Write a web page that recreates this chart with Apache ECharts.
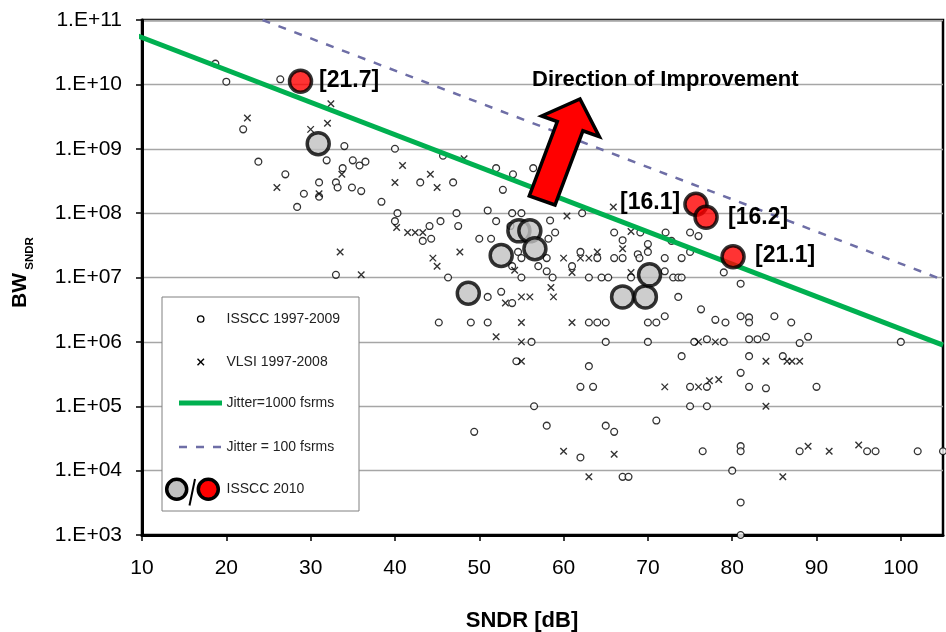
<!DOCTYPE html>
<html><head><meta charset="utf-8">
<script src="https://cdn.jsdelivr.net/npm/echarts@6/dist/echarts.min.js"></script>
<style>html,body{margin:0;padding:0;background:#fff}#c{width:946px;height:632px}</style>
</head><body><div id="c"></div>
<script>
// ---- data ----
const xTickValues = [10, 20, 30, 40, 50, 60, 70, 80, 90, 100];
const yTickLabels = ['1.E+03','1.E+04','1.E+05','1.E+06','1.E+07','1.E+08','1.E+09','1.E+10','1.E+11'];

// ISSCC 1997-2009 (open circles): [SNDR dB, BW]
const isscc9709 = [
 [18.7,2.1e10],[20,1.1e10],[26.4,1.2e10],[22,2e9],[23.8,6.3e8],[27,4e8],[29.2,2e8],[28.4,1.25e8],
 [31,3e8],[31,1.8e8],[31.9,6.6e8],[34,1.1e9],[33.8,5e8],[33,3e8],[33.2,2.5e8],[34.9,2.5e8],
 [35,6.6e8],[35.8,5.5e8],[36.5,6.3e8],[36,2.2e8],[38.4,1.5e8],[40,1e9],[40.3,1e8],[40,7.5e7],
 [43,3e8],[46.9,3e8],[52,5e8],[54,4e8],[52.8,2.3e8],[56.4,5e8],[45.7,7.8e8],[47.3,1e8],
 [47.5,6.3e7],[45.4,7.5e7],[44.1,6.3e7],[44.3,4e7],[43.3,3.7e7],[51,1.1e8],[52,7.5e7],[53.9,1e8],
 [55,1e8],[50,4e7],[51.4,4e7],[46.3,1e7],[33,1.1e7],[51,5e6],[52.6,6e6],[55,1e7],[53.7,6.3e7],
 [53.9,4e6],[45.2,2e6],[49,2e6],[51,2e6],[54.6,2.5e7],[55,2e7],[53.9,1.5e7],[56.2,1e6],[54.4,5e5],
 [62.2,1e8],[58.4,7.7e7],[59,5e7],[58.2,4e7],[66,5e7],[69.1,5e7],[67,3.8e7],[72.1,5e7],[72.8,3.7e7],
 [75,5e7],[76,4.4e7],[79,1.2e7],[81,8e6],[70,3.3e7],[70,2.5e7],[75,2.5e7],[58,2e7],[62,2.5e7],
 [64,2e7],[66,2e7],[67,2e7],[68.8,2.3e7],[69,2e7],[72,2e7],[74,2e7],[57,1.5e7],[58,1.25e7],
 [58.7,1e7],[61,1.5e7],[63,1e7],[64.5,1e7],[65.3,1e7],[68,1e7],[72,1.25e7],[73,1e7],[73.6,1e7],
 [74,1e7],[73.6,5e6],[76.3,3.2e6],[78,2.2e6],[79.2,2e6],[81,2.5e6],[82,2.4e6],[82,2e6],[85,2.5e6],
 [87,2e6],[72,2.5e6],[70,2e6],[71,2e6],[63,2e6],[64,2e6],[65,2e6],[65,1e6],[70,1e6],[75.5,1e6],
 [77,1.1e6],[79,1e6],[82,1.1e6],[83,1.1e6],[84,1.2e6],[88,9.6e5],[89,1.2e6],[100,1e6],[74,6e5],
 [82,6e5],[86,6e5],[63,4.2e5],[81,3.3e5],[62,2e5],[63.5,2e5],[75,2e5],[77,2e5],[82,2e5],[84,1.9e5],
 [90,2e5],[75,1e5],[77,1e5],[71,6e4],[56.5,1e5],[49.4,4e4],[58,5e4],[65,5e4],[66,4e4],[62,1.6e4],
 [67,8e3],[67.7,8e3],[76.5,2e4],[81,2.4e4],[81,2e4],[88,2e4],[96,2e4],[97,2e4],[102,2e4],[105,2e4],
 [80,1e4],[81,3.2e3],[81,1e3]
];
// VLSI 1997-2008 (x markers)
const vlsi9708 = [
 [22.5,3e9],[32.4,5e9],[32,2.5e9],[30,2e9],[26,2.5e8],[31,2e8],[33.7,4e8],[33.5,2.5e7],[36,1.1e7],
 [40.9,5.5e8],[40,3e8],[44.2,4e8],[45,2.5e8],[40.2,6e7],[41.5,5e7],[42.4,5e7],[43.3,5e7],[44.5,2e7],
 [45,1.5e7],[47.7,2.5e7],[48.2,7e8],[54.2,1.3e7],[55,5e6],[56,5e6],[53.1,4e6],[55,2e6],[52,1.2e6],
 [55,1e6],[55,5e5],[60.4,9e7],[65.9,1.25e8],[68,5.2e7],[60,2e7],[62,2e7],[63,2e7],[64,2.5e7],
 [67,2.8e7],[61,1.2e7],[68,1.2e7],[58.5,7e6],[58.8,5e6],[61,2e6],[60,2e4],[66,1.8e4],[63,8e3],
 [76,1e6],[78,1e6],[84,5e5],[86.5,5e5],[87.1,5e5],[88,5e5],[72,2e5],[76,2e5],[77.3,2.5e5],
 [78.4,2.6e5],[84,1e5],[89,2.4e4],[91.5,2e4],[95,2.5e4],[86,8e3]
];
// Jitter limit lines (end points)
const jitter1000 = [[9,6e10],[105,8.9e5]];
const jitter100 = [[24.3,1e11],[105,9.2e6]];
// ISSCC 2010
const isscc2010Gray = [[30.9,1.2e9],[48.7,5.7e6],[52.6,2.2e7],[54.7,5.3e7],[56,5.3e7],[56.6,2.8e7],[67,5e6],[69.7,5e6],[70.2,1.1e7]];
const isscc2010Red = [[28.8,1.12e10],[75.7,1.37e8],[76.9,8.6e7],[80.1,2.1e7]];
const redLabels = ['[21.7]','[16.1]','[16.2]','[21.1]'];
const legendLabels = ['ISSCC 1997-2009','VLSI 1997-2008','Jitter=1000 fsrms','Jitter = 100 fsrms','ISSCC 2010'];

const FONT = 'Arial, "Liberation Sans", sans-serif';
const GREEN = '#00b050';
const DASH = '#6e6ea6';

const chart = echarts.init(document.getElementById('c'), null, {renderer: 'canvas'});

function txt(x, y, text, size, weight, opts) {
  return Object.assign({
    type: 'text', x: x, y: y, z: 100,
    style: {text: text, fontSize: size, fontWeight: weight || 'normal', fontFamily: FONT,
            fill: (opts && opts.fill) || '#000', align: (opts && opts.align) || 'left',
            verticalAlign: 'middle'}
  }, (opts && opts.rotation !== undefined) ? {rotation: opts.rotation} : {});
}

const graphics = [
  // legend box
  {type: 'rect', z: 100, shape: {x: 162, y: 297, width: 197, height: 214}, style: {fill: '#fff', stroke: '#808080', lineWidth: 1}},
  {type: 'circle', z: 101, shape: {cx: 200.7, cy: 319, r: 3.2}, style: {fill: '#fff', stroke: '#000', lineWidth: 1.3}},
  {type: 'line', z: 101, shape: {x1: 197.5, y1: 358.8, x2: 204, y2: 365.3}, style: {stroke: '#000', lineWidth: 1.4}},
  {type: 'line', z: 101, shape: {x1: 204, y1: 358.8, x2: 197.5, y2: 365.3}, style: {stroke: '#000', lineWidth: 1.4}},
  {type: 'line', z: 101, shape: {x1: 179, y1: 403, x2: 222, y2: 403}, style: {stroke: GREEN, lineWidth: 5}},
  {type: 'line', z: 101, shape: {x1: 179, y1: 447, x2: 222, y2: 447}, style: {stroke: DASH, lineWidth: 2.5, lineDash: [8, 9]}},
  {type: 'circle', z: 101, shape: {cx: 176.7, cy: 489.3, r: 10}, style: {fill: '#c0c0c0', stroke: '#000', lineWidth: 3.5}},
  {type: 'line', z: 101, shape: {x1: 195, y1: 479, x2: 189.5, y2: 505.5}, style: {stroke: '#000', lineWidth: 2}},
  {type: 'circle', z: 101, shape: {cx: 208.3, cy: 489.3, r: 10}, style: {fill: '#ff0000', stroke: '#000', lineWidth: 3.5}},
  txt(226.5, 319, legendLabels[0], 14, 'normal', {fill: '#222'}),
  txt(226.5, 362, legendLabels[1], 14, 'normal', {fill: '#222'}),
  txt(226.5, 403, legendLabels[2], 14, 'normal', {fill: '#222'}),
  txt(226.5, 447, legendLabels[3], 14, 'normal', {fill: '#222'}),
  txt(226.5, 489, legendLabels[4], 14, 'normal', {fill: '#222'}),
  // direction arrow
  {type: 'polygon', z: 100, shape: {points: [[580, 99], [599.3, 136.7], [582.9, 130.8], [555, 205], [529.3, 196], [557.3, 121.6], [541.7, 116]]},
   style: {fill: '#ff0000', stroke: '#000', lineWidth: 3.5, lineJoin: 'miter'}},
  txt(532, 80, 'Direction of Improvement', 22, 'bold'),
  // red point labels
  txt(319, 81, redLabels[0], 23, 'bold'),
  txt(620, 202.5, redLabels[1], 23, 'bold'),
  txt(728, 217.5, redLabels[2], 23, 'bold'),
  txt(755, 256, redLabels[3], 23, 'bold'),
  // axis titles
  txt(522, 621, 'SNDR [dB]', 22, 'bold', {align: 'center'}),
  txt(20, 290.5, 'BW', 21, 'bold', {align: 'center', rotation: Math.PI / 2}),
  txt(30, 253.5, 'SNDR', 11.5, 'bold', {align: 'center', rotation: Math.PI / 2})
];

const option = {
  animation: false,
  backgroundColor: '#fff',
  grid: {left: 142, top: 20, width: 801, height: 515, show: true, borderColor: '#000', borderWidth: 2.5, backgroundColor: 'transparent'},
  xAxis: {
    type: 'value', min: 10, max: 105, interval: 10,
    axisLine: {show: true, onZero: false, lineStyle: {color: '#000', width: 3}},
    axisTick: {show: true, inside: false, length: 6, lineStyle: {color: '#000', width: 1.5}},
    axisLabel: {fontSize: 21, color: '#000', fontFamily: FONT, margin: 23, showMaxLabel: false,
      formatter: v => (xTickValues.indexOf(v) >= 0 ? String(v) : '')},
    splitLine: {show: false}
  },
  yAxis: {
    type: 'log', logBase: 10, min: 1e3, max: 1e11, splitNumber: 8,
    axisLine: {show: true, lineStyle: {color: '#000', width: 3}},
    axisTick: {show: true, inside: false, length: 6, lineStyle: {color: '#000', width: 1.5}},
    minorTick: {show: false},
    axisLabel: {fontSize: 21, color: '#000', fontFamily: FONT, margin: 20,
      formatter: v => yTickLabels[Math.round(Math.log10(v)) - 3] || ''},
    splitLine: {show: true, lineStyle: {color: '#a6a6a6', width: 1.3}}
  },
  series: [
    {name: legendLabels[0], type: 'scatter', data: isscc9709, symbol: 'circle', symbolSize: 6.8,
     itemStyle: {color: '#fff', borderColor: '#000', borderWidth: 1.3}, z: 2},
    {name: legendLabels[1], type: 'scatter', data: vlsi9708, symbol: 'path://M0,0L10,10M10,0L0,10', symbolSize: 6.5,
     itemStyle: {color: 'none', borderColor: '#000', borderWidth: 1.4}, z: 2},
    {name: legendLabels[2], type: 'line', data: jitter1000, showSymbol: false, symbol: 'none', clip: false,
     lineStyle: {color: GREEN, width: 5}, z: 3},
    {name: legendLabels[3], type: 'line', data: jitter100, showSymbol: false, symbol: 'none', clip: true,
     lineStyle: {color: DASH, width: 2.5, type: [8, 9]}, z: 3},
    {name: 'ISSCC 2010 (gray)', type: 'scatter', data: isscc2010Gray, symbol: 'circle', symbolSize: 22,
     itemStyle: {color: '#c0c0c0', borderColor: '#000', borderWidth: 3.5}, z: 4},
    {name: 'ISSCC 2010 (red)', type: 'scatter', data: isscc2010Red, symbol: 'circle', symbolSize: 22,
     itemStyle: {color: '#ff0000', borderColor: '#000', borderWidth: 3.5}, z: 4}
  ],
  graphic: graphics
};
chart.setOption(option);
</script>
</body></html>
